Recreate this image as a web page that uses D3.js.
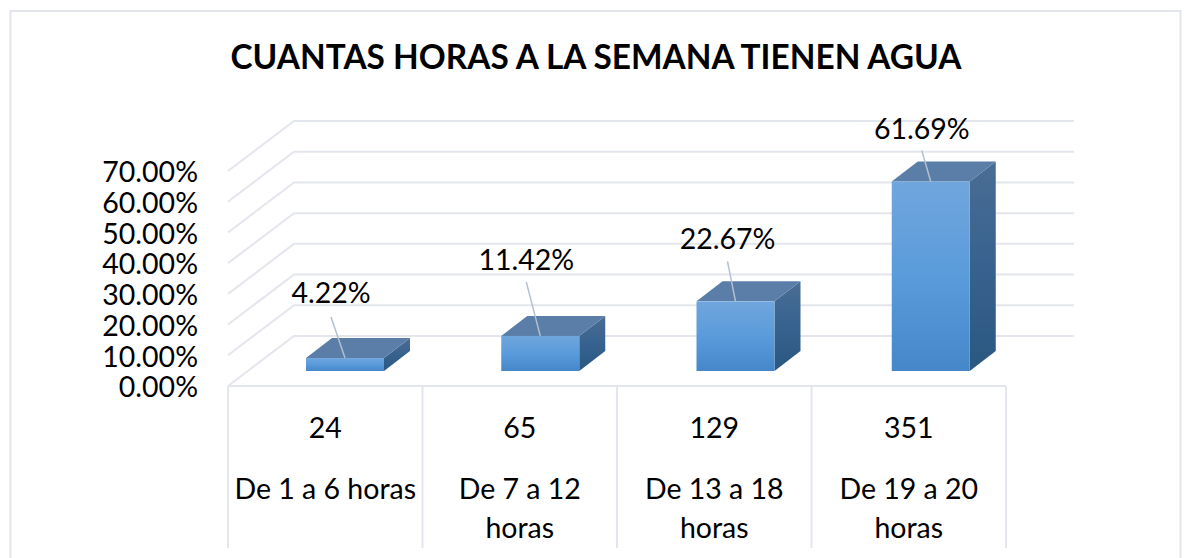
<!DOCTYPE html>
<html>
<head>
<meta charset="utf-8">
<script src="https://cdn.jsdelivr.net/npm/d3@7"></script>
<style>
html, body { margin: 0; padding: 0; background: #fff; }
text { font-family: Lato, "Open Sans", sans-serif; fill: #000; }
</style>
</head>
<body>
<div id="chart"></div>
<script>
var titleText = "CUANTAS HORAS A LA SEMANA TIENEN AGUA";
var categories = ["De 1 a 6 horas", "De 7 a 12 horas", "De 13 a 18 horas", "De 19 a 20 horas"];
var categoryLines = [["De 1 a 6 horas"], ["De 7 a 12", "horas"], ["De 13 a 18", "horas"], ["De 19 a 20", "horas"]];
var counts = [24, 65, 129, 351];
var percents = [4.22, 11.42, 22.67, 61.69];
var yTicks = [0, 10, 20, 30, 40, 50, 60, 70];

var width = 1184, height = 558;
var depth = { dx: 66, dy: -50 };      // floor depth of the 3d box
var barDepth = { dx: 26, dy: -20 };
var barShift = { dy: -15 };           // bars sit part way back on the floor
var leaderRise = [41, 54, 40, 31];
var leaderLean = [14, 14, 8, 9];
var labelGap = [14, 12, 12, 12];
var fontSize = 28.5;

var svg = d3.select("#chart").append("svg")
    .attr("width", width)
    .attr("height", height)
    .style("display", "block");

var defs = svg.append("defs");
function addGradient(id, top, mid, bottom) {
    var g = defs.append("linearGradient").attr("id", id)
        .attr("x1", 0).attr("y1", 0).attr("x2", 0).attr("y2", 1);
    g.append("stop").attr("offset", "0%").attr("stop-color", top);
    g.append("stop").attr("offset", "50%").attr("stop-color", mid);
    g.append("stop").attr("offset", "100%").attr("stop-color", bottom);
}
addGradient("frontFill", "#70a6dd", "#5a9bdb", "#4687ca");
addGradient("sideFill", "#4a6d94", "#37628f", "#2a5880");

var lineColor = "#e3e6ec";

// chart frame, cut by the bottom of the picture
svg.append("path")
    .attr("d", "M10.5," + height + "V11H1180.5V" + height)
    .attr("fill", "none")
    .attr("stroke", lineColor)
    .attr("stroke-width", 2);

svg.append("text")
    .attr("x", 596)
    .attr("y", 69)
    .attr("text-anchor", "middle")
    .style("font-size", "33.4px")
    .style("font-weight", 700)
    .text(titleText);

var x = d3.scaleBand().domain(categories).range([228, 1006]);
// bars are spaced a little wider than the table cells
var xBar = d3.scaleBand().domain(categories).range([228, 1009]);
var y = d3.scaleLinear().domain([0, 70]).range([386, 171]);

// gridlines: side wall then back wall
var grid = svg.append("g").attr("fill", "none")
    .attr("stroke", lineColor).attr("stroke-width", 2);
grid.selectAll("path").data(yTicks).enter().append("path")
    .attr("d", function(d) {
        return d3.line()([
            [x.range()[0], y(d)],
            [x.range()[0] + depth.dx, y(d) + depth.dy],
            [1074, y(d) + depth.dy]
        ]);
    });

// floor front edge and category table
grid.append("line")
    .attr("x1", x.range()[0]).attr("x2", x.range()[1])
    .attr("y1", y(0)).attr("y2", y(0));
grid.selectAll("line.cell")
    .data(categories.concat(["end"]))
    .enter().append("line")
    .attr("class", "cell")
    .attr("x1", function(d, i) { return x.range()[0] + i * x.step(); })
    .attr("x2", function(d, i) { return x.range()[0] + i * x.step(); })
    .attr("y1", y(0))
    .attr("y2", 548);

// value axis
var axis = svg.append("g")
    .attr("transform", "translate(198,0)")
    .call(d3.axisLeft(y).tickValues(yTicks).tickSize(0).tickPadding(0)
        .tickFormat(function(d) { return d.toFixed(2) + "%"; }));
axis.select(".domain").remove();
axis.selectAll("text")
    .style("font-size", fontSize + "px")
    .style("font-family", "Lato, 'Open Sans', sans-serif")
    .attr("dy", "0.38em");

// bars
var barWidth = 78;
var bars = svg.selectAll("g.bar")
    .data(percents)
    .enter().append("g")
    .attr("class", "bar");

function barLeft(i) { return xBar(categories[i]) + barWidth; }
function barBase() { return y(0) + barShift.dy; }
function barTop(d) { return y(d) + barShift.dy; }

bars.append("path")
    .attr("fill", "url(#sideFill)")
    .attr("d", function(d, i) {
        var r = barLeft(i) + barWidth;
        return d3.line()([[r, barTop(d)], [r + barDepth.dx, barTop(d) + barDepth.dy],
            [r + barDepth.dx, barBase() + barDepth.dy], [r, barBase()]]) + "Z";
    });
bars.append("path")
    .attr("fill", "#5a7ea8")
    .attr("d", function(d, i) {
        var l = barLeft(i);
        return d3.line()([[l, barTop(d)], [l + barDepth.dx, barTop(d) + barDepth.dy],
            [l + barWidth + barDepth.dx, barTop(d) + barDepth.dy], [l + barWidth, barTop(d)]]) + "Z";
    });
bars.append("rect")
    .attr("fill", "url(#frontFill)")
    .attr("x", function(d, i) { return barLeft(i); })
    .attr("y", function(d) { return barTop(d); })
    .attr("width", barWidth)
    .attr("height", function(d) { return barBase() - barTop(d); });

// leader lines and data labels
bars.append("line")
    .attr("stroke", "#b4bfcf")
    .attr("stroke-width", 1.5)
    .attr("x1", function(d, i) { return barLeft(i) + barWidth / 2; })
    .attr("y1", function(d) { return barTop(d); })
    .attr("x2", function(d, i) { return barLeft(i) + barWidth / 2 - leaderLean[i]; })
    .attr("y2", function(d, i) { return barTop(d) - leaderRise[i]; });
bars.append("text")
    .attr("text-anchor", "middle")
    .style("font-size", fontSize + "px")
    .attr("x", function(d, i) { return barLeft(i) + barWidth / 2 - leaderLean[i]; })
    .attr("y", function(d, i) { return barTop(d) - leaderRise[i] - labelGap[i]; })
    .text(function(d) { return d.toFixed(2) + "%"; });

// table rows under the floor
svg.selectAll("text.count")
    .data(counts)
    .enter().append("text")
    .attr("class", "count")
    .attr("text-anchor", "middle")
    .style("font-size", fontSize + "px")
    .attr("x", function(d, i) { return x(categories[i]) + x.bandwidth() / 2; })
    .attr("y", 438)
    .text(function(d) { return d; });

svg.selectAll("text.cat")
    .data(categoryLines)
    .enter().append("text")
    .attr("class", "cat")
    .attr("text-anchor", "middle")
    .style("font-size", fontSize + "px")
    .attr("transform", function(d, i) {
        return "translate(" + (x(categories[i]) + x.bandwidth() / 2) + ",499)";
    })
    .selectAll("tspan")
    .data(function(d) { return d; })
    .enter().append("tspan")
    .attr("x", 0)
    .attr("y", function(d, i) { return i * 39; })
    .text(function(d) { return d; });
</script>
</body>
</html>
